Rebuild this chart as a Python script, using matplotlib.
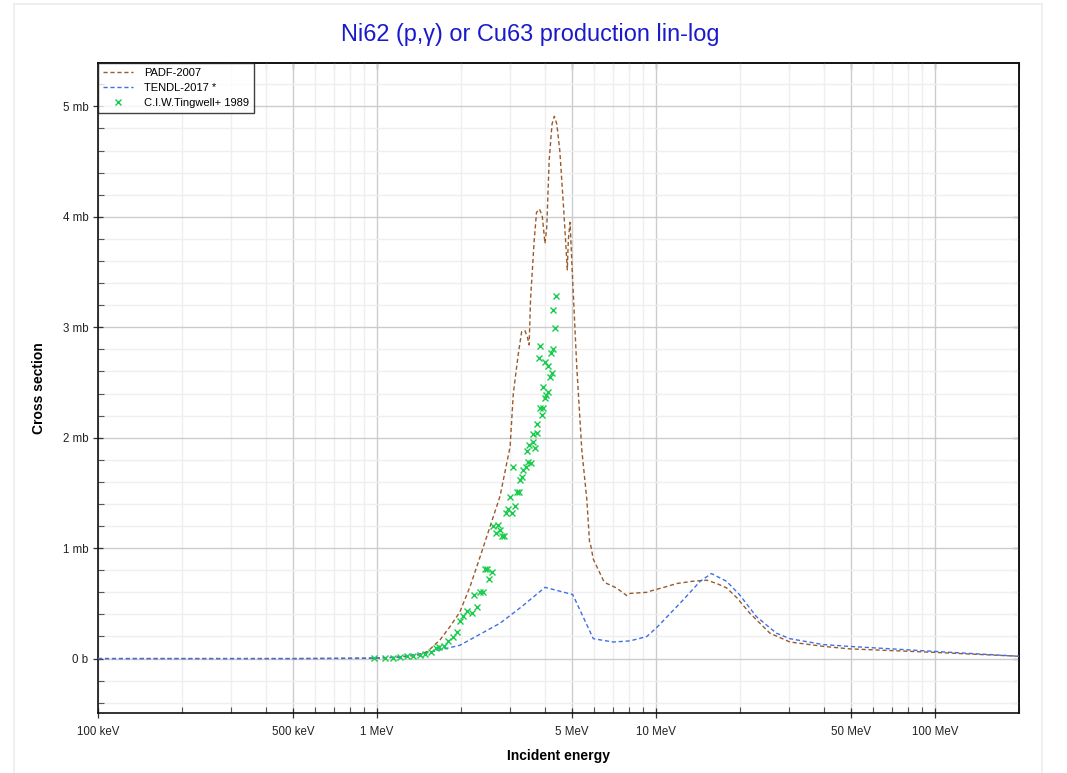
import matplotlib
matplotlib.use("Agg")
import matplotlib.pyplot as plt
from matplotlib.ticker import FixedLocator, FixedFormatter, MultipleLocator, FuncFormatter
from matplotlib.patches import Rectangle

plt.rcParams['font.family'] = ['Liberation Sans', 'DejaVu Sans']

# ---- data (energy in MeV, cross section in mb) ----
padf_E = [0.1, 0.5, 0.9, 1.0, 1.2, 1.4, 1.52, 1.683, 1.827, 1.98, 2.154, 2.34, 2.50, 2.76, 3.0,
          3.08, 3.21, 3.30, 3.39, 3.46, 3.51, 3.55, 3.66, 3.73, 3.82, 3.91, 4.0, 4.06, 4.14,
          4.24, 4.32, 4.41, 4.52, 4.67, 4.81, 4.85, 4.92, 5.0, 5.20, 5.42, 5.65, 5.78, 5.82,
          5.96, 6.47, 6.66, 7.21, 7.86, 8.07, 9.27, 9.5, 10.5, 11.9, 13.5, 15.2, 16.5, 17.9,
          19.5, 21.7, 25.6, 30.2, 40.0, 49.5, 98.0, 148.0, 200.0]
padf_s = [0.0, 0.0, 0.002, 0.005, 0.012, 0.03, 0.066, 0.17, 0.29, 0.42, 0.65, 0.92, 1.14, 1.47, 1.92,
          2.40, 2.76, 2.96, 2.97, 2.91, 2.84, 3.25, 3.79, 4.04, 4.07, 4.01, 3.76, 3.91, 4.51,
          4.84, 4.91, 4.84, 4.60, 4.06, 3.52, 3.79, 3.95, 3.55, 2.64, 1.89, 1.44, 1.05, 1.04,
          0.90, 0.71, 0.68, 0.64, 0.57, 0.59, 0.60, 0.61, 0.64, 0.68, 0.70, 0.71, 0.68, 0.64,
          0.55, 0.41, 0.23, 0.15, 0.11, 0.088, 0.057, 0.036, 0.021]

tendl_E = [0.1, 0.5, 1.0, 1.2, 1.5, 1.98, 2.76, 3.3, 4.0, 5.03, 5.96, 7.03, 8.07, 9.27, 10.05,
           12.5, 14.4, 15.8, 17.9, 19.9, 22.9, 27.0, 30.2, 39.7, 49.5, 98.0, 200.0]
tendl_s = [0.0, 0.0, 0.005, 0.015, 0.05, 0.12, 0.32, 0.47, 0.645, 0.58, 0.18, 0.15, 0.16, 0.20, 0.28,
           0.53, 0.70, 0.77, 0.70, 0.58, 0.38, 0.23, 0.18, 0.127, 0.11, 0.066, 0.021]

exp_E = [0.976, 1.068, 1.138, 1.209, 1.284, 1.349, 1.426, 1.486, 1.557, 1.628, 1.672, 1.738,
         1.801, 1.867, 1.930, 1.982, 2.04, 2.107, 2.184, 2.277, 2.227, 2.34, 2.394, 2.526, 2.577,
         2.436, 2.485, 2.612, 2.72, 2.76, 2.67, 2.80, 2.85, 2.90, 2.956, 3.04, 3.125, 2.996,
         3.17, 3.23, 3.25, 3.30, 3.35, 3.42, 3.49, 3.55, 3.08, 3.46, 3.52, 3.63, 3.69, 3.61,
         3.76, 3.73, 3.85, 3.94, 3.91,
         4.38, 4.26, 4.35, 3.84, 3.81, 4.28, 4.19, 4.01, 4.09, 4.24, 4.17, 3.94, 4.11, 4.03, 3.99]
exp_s = [0.003, 0.003, 0.006, 0.015, 0.021, 0.021, 0.033, 0.042, 0.057, 0.096, 0.105, 0.118,
         0.157, 0.196, 0.238, 0.337, 0.383, 0.428, 0.413, 0.467, 0.572, 0.603, 0.603, 0.72, 0.78,
         0.81, 0.814, 1.196, 1.21, 1.166, 1.136, 1.106, 1.106, 1.317, 1.353, 1.317, 1.386, 1.462,
         1.504, 1.504, 1.618, 1.643, 1.709, 1.739, 1.784, 1.769, 1.733, 1.883, 1.935, 1.959, 1.911, 2.037,
         2.041, 2.122, 2.27, 2.27, 2.209,
         3.285, 3.156, 2.996, 2.83, 2.719, 2.806, 2.764, 2.689, 2.652, 2.589, 2.553, 2.456, 2.417, 2.387, 2.363]

x_ticks = [0.1, 0.5, 1, 5, 10, 50, 100]
x_tick_labels = ["100 keV", "500 keV", "1 MeV", "5 MeV", "10 MeV", "50 MeV", "100 MeV"]
y_ticks = [0, 1, 2, 3, 4, 5]
y_tick_labels = ["0 b", "1 mb", "2 mb", "3 mb", "4 mb", "5 mb"]

# ---- figure ----
fig = plt.figure(figsize=(10.67, 7.73), dpi=100)
fig.patch.set_facecolor('white')
fig.add_artist(Rectangle((14 / 1067, -0.01), (1042 - 14) / 1067, 1 - 4 / 773 + 0.01,
                         transform=fig.transFigure, fill=False, edgecolor='#ececec', lw=1.2))
ax = fig.add_axes([98 / 1067, 1 - 712.7 / 773, (1019 - 98) / 1067, (712.7 - 63.3) / 773])

brown = '#9a5b2c'
blue = '#3f6fe6'
green = '#18cc4c'

ax.plot(padf_E, padf_s, color=brown, lw=1.0, ls=(0, (3, 2)), label='PADF-2007', zorder=3)
ax.plot(tendl_E, tendl_s, color=blue, lw=1.0, ls=(0, (3, 2)), label='TENDL-2017 *', zorder=3)
ax.plot(exp_E, exp_s, ls='none', marker='x', ms=4, mew=1.0, color=green,
        label='C.I.W.Tingwell+ 1989', zorder=4)

ax.set_xscale('log')
ax.set_xlim(0.1, 200)
ax.set_ylim(-0.49, 5.39)

ax.xaxis.set_major_locator(FixedLocator(x_ticks))
ax.xaxis.set_major_formatter(FixedFormatter(x_tick_labels))
minor_x = [m * d for d in [0.1, 1, 10, 100] for m in range(2, 10)
           if m * d <= 200 and m != 5]
ax.xaxis.set_minor_locator(FixedLocator(minor_x))
ax.xaxis.set_minor_formatter(FuncFormatter(lambda v, p: ""))

ax.yaxis.set_major_locator(FixedLocator(y_ticks))
ax.yaxis.set_major_formatter(FixedFormatter(y_tick_labels))
ax.yaxis.set_minor_locator(MultipleLocator(0.2))

ax.tick_params(which='major', direction='inout', length=7, width=0.9, labelsize=8.3,
               color='#333333', labelcolor='#222222')
ax.tick_params(which='minor', direction='in', length=4, width=0.8, color='#555555')
ax.tick_params(axis='x', which='major', pad=6)

# inward ticks on the top and right spines
axt = ax.secondary_xaxis('top')
axt.xaxis.set_major_locator(FixedLocator(x_ticks))
axt.xaxis.set_minor_locator(FixedLocator(minor_x))
axt.tick_params(which='major', direction='in', length=4, width=0.9, labeltop=False, color='#333333')
axt.tick_params(which='minor', direction='in', length=4, width=0.8, color='#555555')
axr = ax.secondary_yaxis('right')
axr.yaxis.set_major_locator(FixedLocator(y_ticks))
axr.yaxis.set_minor_locator(MultipleLocator(0.2))
axr.tick_params(which='major', direction='in', length=4, width=0.9, labelright=False, color='#333333')
axr.tick_params(which='minor', direction='in', length=4, width=0.8, color='#555555')
for a in (axt, axr):
    for s in a.spines.values():
        s.set_linewidth(1.2)
        s.set_color('#111111')

ax.grid(which='major', color='#cccccc', lw=1.0, zorder=0)
ax.grid(which='minor', color='#efefef', lw=1.0, zorder=0)
ax.set_axisbelow(True)
for s in ax.spines.values():
    s.set_linewidth(1.2)
    s.set_color('#111111')

ax.set_xlabel('Incident energy', fontsize=10, fontweight='bold', labelpad=8)
ax.set_ylabel('Cross section', fontsize=10, fontweight='bold', labelpad=12)
fig.text(530 / 1067, 1 - 34 / 773, 'Ni62 (p,γ) or Cu63 production lin-log', color='#1a1acc',
         fontsize=16.9, ha='center', va='center')

leg = ax.legend(loc='upper left', fontsize=8, frameon=True, fancybox=False,
                borderaxespad=0.0, handlelength=2.7, handletextpad=1.0,
                borderpad=0.45, labelspacing=0.42)
leg.get_frame().set_edgecolor('#111111')
leg.get_frame().set_linewidth(1.0)

fig.savefig('out.png', dpi=100, facecolor='white')
